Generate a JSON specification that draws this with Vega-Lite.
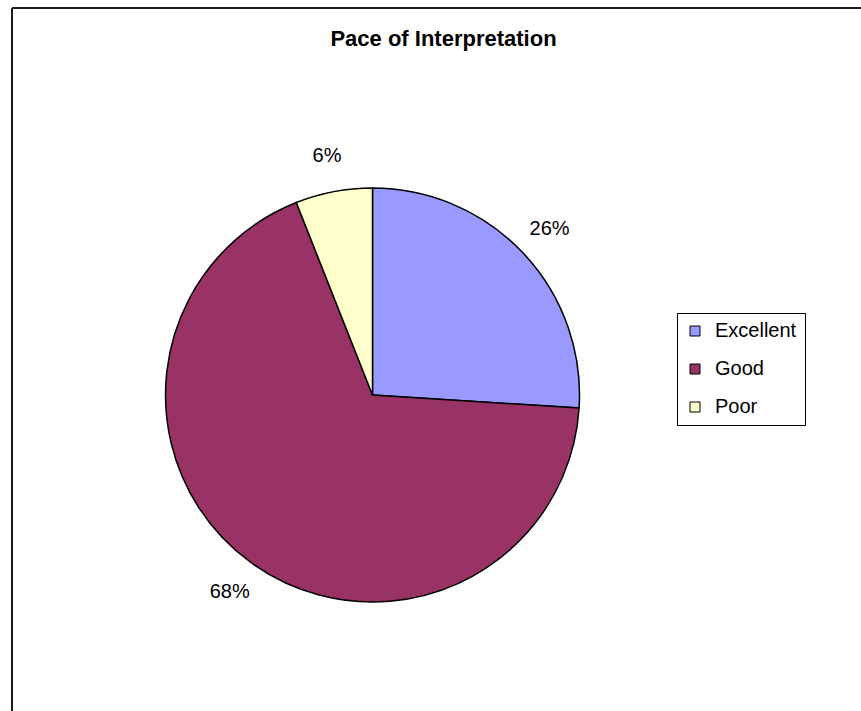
{
  "$schema": "https://vega.github.io/schema/vega-lite/v6.json",
  "width": 849,
  "height": 703,
  "autosize": "none",
  "padding": {"left": 12, "top": 8, "right": 0, "bottom": 0},
  "background": "white",
  "title": {
    "text": "Pace of Interpretation",
    "font": "Liberation Sans",
    "fontSize": 22,
    "fontWeight": "bold",
    "color": "#000000",
    "anchor": "middle",
    "frame": "group",
    "offset": 0,
    "baseline": "alphabetic",
    "dx": 7,
    "dy": 61
  },
  "datasets": {
    "ratings": [
      {"rating": "Excellent", "share": 0.26},
      {"rating": "Good", "share": 0.68},
      {"rating": "Poor", "share": 0.06}
    ],
    "chartArea": [
      {"part": "border"}
    ]
  },
  "layer": [
    {
      "data": {"name": "chartArea"},
      "mark": {"type": "rule", "stroke": "#1a1a1a", "strokeWidth": 2},
      "encoding": {"x": {"value": 0}}
    },
    {
      "data": {"name": "chartArea"},
      "mark": {"type": "rule", "stroke": "#1a1a1a", "strokeWidth": 2},
      "encoding": {"y": {"value": 0}}
    },
    {
      "data": {"name": "ratings"},
      "mark": {
        "type": "arc",
        "x": 360.5,
        "y": 387,
        "outerRadius": 207,
        "stroke": "#000000",
        "strokeWidth": 1.5
      },
      "encoding": {
        "theta": {"field": "share", "type": "quantitative", "stack": true},
        "order": {"field": "rating", "type": "nominal", "sort": "ascending"},
        "color": {
          "field": "rating",
          "type": "nominal",
          "sort": ["Excellent", "Good", "Poor"],
          "scale": {
            "domain": ["Excellent", "Good", "Poor"],
            "range": ["#9999FF", "#993366", "#FFFFCC"]
          },
          "legend": {
            "title": null,
            "orient": "none",
            "legendX": 665,
            "legendY": 305,
            "symbolType": "square",
            "symbolSize": 100,
            "symbolStrokeColor": "#000000",
            "symbolStrokeWidth": 1,
            "symbolOpacity": 1,
            "labelFont": "Liberation Sans",
            "labelFontSize": 20,
            "labelColor": "#000000",
            "labelOffset": 10,
            "rowPadding": 18,
            "padding": 8,
            "strokeColor": "#000000",
            "fillColor": "white"
          }
        }
      }
    },
    {
      "data": {"name": "ratings"},
      "mark": {
        "type": "text",
        "x": 360.5,
        "y": 387,
        "radius": 243,
        "font": "Liberation Sans",
        "fontSize": 20,
        "fill": "#000000"
      },
      "encoding": {
        "theta": {"field": "share", "type": "quantitative", "stack": true},
        "order": {"field": "rating", "type": "nominal", "sort": "ascending"},
        "text": {"field": "share", "type": "quantitative", "format": ".0%"}
      }
    }
  ]
}
